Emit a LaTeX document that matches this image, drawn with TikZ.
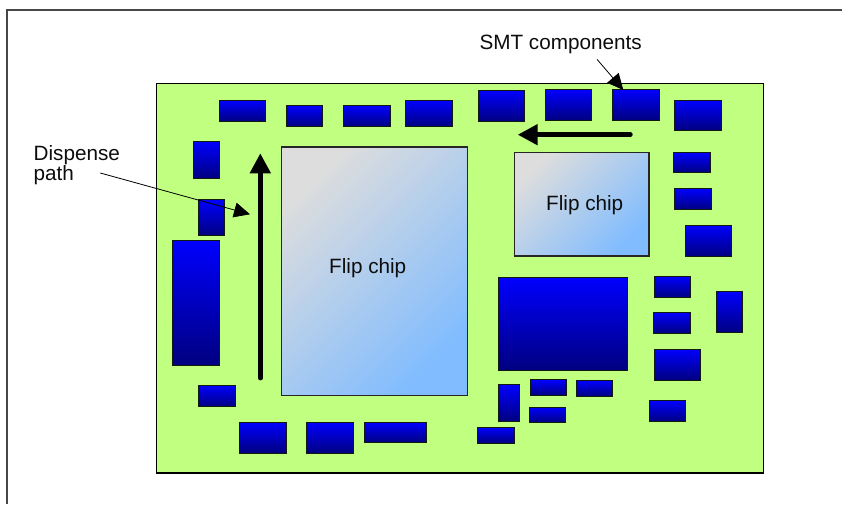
\documentclass[tikz,border=0pt]{standalone}
\usepackage{fontspec}
\setmainfont{Liberation Sans}
\usetikzlibrary{arrows.meta}
\definecolor{boardgreen}{RGB}{192,255,128}
\definecolor{chipgrey}{RGB}{221,221,221}
\definecolor{chipblue}{RGB}{128,188,255}
\definecolor{compblue}{RGB}{0,0,255}
\definecolor{compnavy}{RGB}{0,0,128}
\tikzset{
  frameline/.style={draw=black!72,line width=1.7pt},
  pcbboard/.style={draw=black,line width=1.1pt,fill=boardgreen,inner sep=0pt,outer sep=0pt},
  comp/.style={draw=black!90!boardgreen,line width=1pt,top color=compblue,bottom color=compnavy,inner sep=0pt,outer sep=0pt},
  flip/.style={draw=black!85,line width=1.1pt,shading=axis,left color=chipgrey,right color=chipblue,shading angle=45,inner sep=0pt,outer sep=0pt},
  txt/.style={font=\fontsize{20.7pt}{20pt}\selectfont,text=black!95,inner sep=0pt,anchor=base west},
  path arrow/.style={line width=4.8pt,line cap=round,-{Triangle[length=20pt,width=20pt]}},
  leader/.style={line width=0.8pt,-{Triangle[length=16pt,width=15pt]}}
}
\newcommand{\rectnode}[6]{%
  \node[#1,minimum width={(#5-#3)*1pt},minimum height={(#6-#4)*1pt}] (#2) at ({(#3+#5)/2},{(#4+#6)/2}) {};}
\begin{document}
\begin{tikzpicture}[x=1pt,y=-1pt]
\useasboundingbox (0,0) rectangle (842,504);
\fill[white] (0,0) rectangle (842,504);
\draw[frameline] (6.8,504) -- (6.8,10) -- (842,10);
\rectnode{pcbboard}{pcb}{156.7}{83.5}{763.7}{473}
% top row
\rectnode{comp}{t1}{219}{100.3}{265.7}{121.3}
\rectnode{comp}{t2}{286.3}{105.7}{322.7}{126.7}
\rectnode{comp}{t3}{343}{105.7}{390}{126.7}
\rectnode{comp}{t4}{405.3}{100.3}{452.3}{126.7}
\rectnode{comp}{t5}{478}{90.3}{524.7}{121.3}
\rectnode{comp}{t6}{545}{89.3}{591.7}{120.3}
\rectnode{comp}{t7}{612.3}{89.3}{659.3}{120.3}
\rectnode{comp}{t8}{674.3}{100}{721.3}{130.3}
% right side
\rectnode{comp}{r1}{673.7}{152.3}{710.7}{172.7}
\rectnode{comp}{r2}{674.3}{188.3}{711}{209.7}
\rectnode{comp}{r3}{685.3}{225}{731.7}{256.3}
\rectnode{comp}{r4}{654}{276.3}{690.7}{297.7}
\rectnode{comp}{r5}{653.3}{312.3}{690}{333.3}
\rectnode{comp}{r6}{716.3}{291.3}{742.7}{332.7}
\rectnode{comp}{r7}{654}{349}{700.7}{380}
\rectnode{comp}{r8}{649.3}{400.3}{685.7}{421.7}
% centre
\rectnode{comp}{big}{498}{277}{627.7}{370.3}
\rectnode{comp}{c1}{498}{384.7}{519}{421.3}
\rectnode{comp}{c2}{530}{379.7}{566.7}{395.7}
\rectnode{comp}{c3}{576}{380.3}{612.7}{396.3}
\rectnode{comp}{c4}{529.3}{407}{565.7}{422.7}
\rectnode{comp}{c5}{477.3}{427.3}{514}{443}
% bottom left
\rectnode{comp}{b1}{364}{422}{426.7}{442.7}
\rectnode{comp}{b2}{306.3}{422}{353}{453.3}
\rectnode{comp}{b3}{239}{422}{286}{453}
\rectnode{comp}{b4}{198.7}{385.3}{235.7}{406.7}
% left side
\rectnode{comp}{l1}{172.3}{240}{219}{365}
\rectnode{comp}{l2}{198.3}{199}{224.3}{235.3}
\rectnode{comp}{l3}{193}{141.3}{219}{178.7}
% flip chips
\rectnode{flip}{fc1}{281.3}{147}{467.7}{395.3}
\rectnode{flip}{fc2}{514.3}{152.7}{649}{256}
\node[txt] (fc1text) at (329,273.7) {Flip chip};
\node[txt] (fc2text) at (546,210) {Flip chip};
% dispense path arrows
\coordinate (vstart) at (260.3,378);
\coordinate (vend) at (260.3,153.3);
\coordinate (hstart) at (630.3,134.7);
\coordinate (hend) at (517.7,134.7);
\draw[path arrow] (vstart) -- (vend);
\draw[path arrow] (hstart) -- (hend);
% labels and leaders
\node[txt] (disp1) at (33.5,160) {Dispense};
\node[txt] (disp2) at (33.5,180) {path};
\node[txt] (smt) at (479.3,49.3) {SMT components};
\coordinate (dl1) at (100.3,173);
\coordinate (dl2) at (250,214.3);
\coordinate (sl1) at (597,59.3);
\coordinate (sl2) at (623.3,90);
\draw[leader] (dl1) -- (dl2);
\draw[leader] (sl1) -- (sl2);
\end{tikzpicture}
\end{document}
